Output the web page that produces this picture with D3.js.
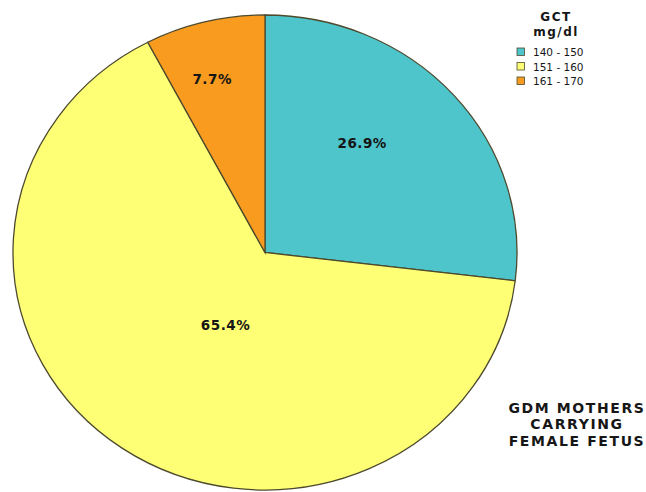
<!DOCTYPE html>
<html>
<head>
<meta charset="utf-8">
<script src="https://cdn.jsdelivr.net/npm/d3@7"></script>
<style>
  html, body { margin: 0; padding: 0; background: #ffffff; }
  svg { display: block; }
</style>
</head>
<body>
<svg id="chart" width="646" height="492"></svg>
<script>
// GCT ranges (mg/dl) and share of GDM mothers carrying a female fetus
const categories = ["140 - 150", "151 - 160", "161 - 170"];
const percents = [26.9, 65.4, 7.7];
const colors = ["#4dc5ca", "#ffff75", "#f89b1f"];
const legendTitle = ["GCT", "mg/dl"];
const caption = ["GDM MOTHERS", "CARRYING", "FEMALE FETUS"];

// label placement: angle (degrees clockwise from top) and radius fraction
const labelLayout = [
  { angle: 40, r: 0.60 },
  { angle: 207, r: 0.345 },
  { angle: -16, r: 0.76 }
];

const svg = d3.select("#chart");
const cx = 265, cy = 252.5, rx = 252, ry = 237.5;
const squash = ry / rx;

const data = categories.map((c, i) => ({ cat: c, value: percents[i], color: colors[i], layout: labelLayout[i] }));

const pie = d3.pie().value(d => d.value).sort(null);
const arc = d3.arc().innerRadius(0).outerRadius(rx);
const arcs = pie(data);

const g = svg.append("g").attr("transform", `translate(${cx},${cy}) scale(1,${squash})`);

g.selectAll("path.slice")
  .data(arcs)
  .enter().append("path")
  .attr("class", "slice")
  .attr("d", arc)
  .attr("fill", d => d.data.color)
  .attr("stroke", "#4d4a2e")
  .attr("stroke-width", 1.3)
  .attr("vector-effect", "non-scaling-stroke");

// percentage labels
svg.append("g").selectAll("text")
  .data(arcs)
  .enter().append("text")
  .attr("x", d => cx + d.data.layout.r * rx * Math.sin(d.data.layout.angle * Math.PI / 180))
  .attr("y", d => cy - d.data.layout.r * ry * Math.cos(d.data.layout.angle * Math.PI / 180))
  .attr("dy", "0.36em")
  .attr("text-anchor", "middle")
  .attr("font-family", "DejaVu Sans, Verdana, sans-serif")
  .attr("font-weight", "bold")
  .attr("font-size", 13.5)
  .attr("letter-spacing", 0.5)
  .attr("fill", "#161616")
  .text(d => d.data.value.toFixed(1) + "%");

// legend
const legend = svg.append("g");
legend.selectAll("text.title")
  .data(legendTitle)
  .enter().append("text")
  .attr("class", "title")
  .attr("x", 556)
  .attr("y", (d, i) => 20.5 + i * 15)
  .attr("text-anchor", "middle")
  .attr("font-family", "DejaVu Sans, Verdana, sans-serif")
  .attr("font-weight", "bold")
  .attr("font-size", 12)
  .attr("letter-spacing", 1.5)
  .attr("fill", "#161616")
  .text(d => d);

const items = legend.selectAll("g.item")
  .data(data)
  .enter().append("g")
  .attr("class", "item")
  .attr("transform", (d, i) => `translate(517,${48 + i * 14.5})`);

items.append("rect")
  .attr("width", 7.5)
  .attr("height", 7.5)
  .attr("fill", d => d.color)
  .attr("stroke", "#4d4a2e")
  .attr("stroke-width", 0.8);

items.append("text")
  .attr("x", 16)
  .attr("y", 8)
  .attr("font-family", "DejaVu Sans, Verdana, sans-serif")
  .attr("font-size", 10.5)
  .attr("fill", "#161616")
  .text(d => d.cat);

// caption
svg.append("g").selectAll("text")
  .data(caption)
  .enter().append("text")
  .attr("x", 577)
  .attr("y", (d, i) => 412.5 + i * 16.5)
  .attr("text-anchor", "middle")
  .attr("font-family", "DejaVu Sans, Verdana, sans-serif")
  .attr("font-weight", "bold")
  .attr("font-size", 14)
  .attr("letter-spacing", 1.6)
  .attr("fill", "#161616")
  .text(d => d);
</script>
</body>
</html>
